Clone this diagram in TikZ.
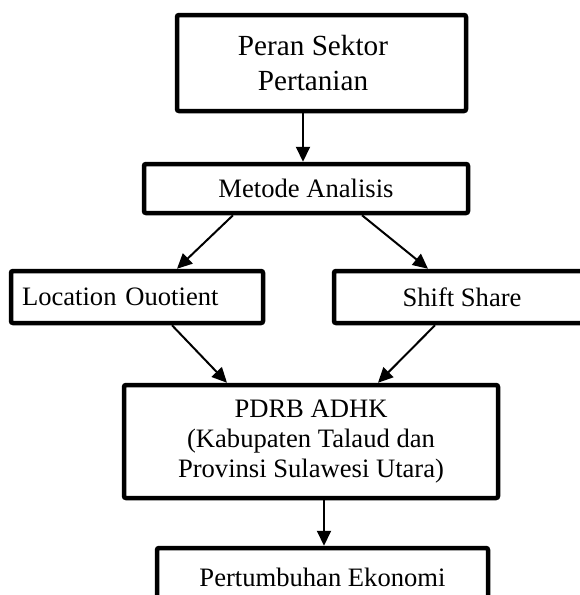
\documentclass[tikz,border=0pt]{standalone}
\usepackage{fontspec}
\setmainfont{Liberation Serif}
\usetikzlibrary{arrows.meta}

\begin{document}
\begin{tikzpicture}[
    x = 1pt,
    y = -1pt,
    >={Triangle[length=15pt,width=14pt]},
    box/.style = {
      draw,
      line width = 4.5pt,
      rounded corners = 2pt,
      inner xsep = 11pt,
      inner ysep = 0pt,
      font = \fontsize{26.6}{30}\selectfont
    },
    link/.style = {
      ->,
      line width = 2pt
    }
  ]
  \useasboundingbox (0,0) rectangle (580,595);
  \clip (0,0) rectangle (580,595);

  \node[box, minimum width=289pt, minimum height=96pt, align=center,
        font=\fontsize{29.2}{35}\selectfont] (peran) at (321.5,63)
        {\hspace*{-17pt}Peran Sektor\\\hspace*{-17pt}Pertanian};

  \node[box, minimum width=324pt, minimum height=49pt] (metode) at (306,188.5)
        {\raisebox{-2pt}{Metode Analisis}};

  \node[box, minimum width=252pt, minimum height=52pt, text width=230pt,
        align=left] (loc) at (137,297) {Location Ouotient};

  \node[box, minimum width=256pt, minimum height=52pt] (shift) at (462,297)
        {Shift Share};

  \node[box, minimum width=374pt, minimum height=113pt, align=center] (pdrb)
        at (311,441.5)
        {PDRB ADHK\\(Kabupaten Talaud dan\\Provinsi Sulawesi Utara)};

  \node[box, minimum width=331pt, minimum height=58pt] (tumbuh) at (322.5,577)
        {Pertumbuhan Ekonomi};

  \draw[link] ([xshift=-18.5pt]peran.south) -- ([xshift=-3pt]metode.north);

  \draw[link] ([xshift=-73pt]metode.south) -- ([xshift=40pt]loc.north);
  \draw[link] ([xshift=56pt]metode.south) -- ([xshift=-34pt]shift.north);

  \draw[link] ([xshift=35pt]loc.south) -- ([xshift=-84pt]pdrb.north);
  \draw[link] ([xshift=-27pt]shift.south) -- ([xshift=67pt]pdrb.north);

  \draw[link] ([xshift=13pt]pdrb.south) -- ([xshift=1.5pt]tumbuh.north);
\end{tikzpicture}
\end{document}
